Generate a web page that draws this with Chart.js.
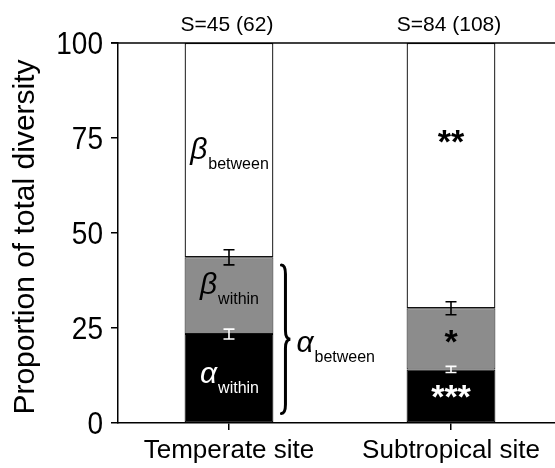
<!DOCTYPE html>
<html><head><meta charset="utf-8">
<script src="https://cdn.jsdelivr.net/npm/chart.js@4"></script>
<style>
html,body{margin:0;padding:0;background:#fff;overflow:hidden;width:555px;height:468px}
#wrap{width:562px;height:468px;position:relative}
</style></head>
<body><div id="wrap"><canvas id="c"></canvas></div>
<script>
const categories = ['Temperate site', 'Subtropical site'];
const alphaWithin = [23.4, 14.1];
const betaWithin = [20.2, 16.1];
const betaBetween = [56.4, 69.8];
const alphaWithinErr = [1.3, 0.8];
const betaWithinErr = [2.0, 1.7];
const speciesLabels = ['S=45 (62)', 'S=84 (108)'];
const sigAlphaWithin = ['', '***'];
const sigBetaWithin = ['', '*'];
const sigBetaBetween = ['', '**'];
const yTicks = [0, 25, 50, 75, 100];
const yTitle = 'Proportion of total diversity';

const FONT = '"Liberation Sans", Arial, Helvetica, sans-serif';

function drawBrace(ctx, x, y1, y2, w) {
  const ym = (y1 + y2) / 2;
  const xm = x + w * 0.45;
  ctx.beginPath();
  ctx.moveTo(x, y1);
  ctx.quadraticCurveTo(xm, y1, xm, y1 + w);
  ctx.lineTo(xm, ym - w);
  ctx.quadraticCurveTo(xm, ym, x + w, ym);
  ctx.quadraticCurveTo(xm, ym, xm, ym + w);
  ctx.lineTo(xm, y2 - w);
  ctx.quadraticCurveTo(xm, y2, x, y2);
  ctx.stroke();
}

function drawSub(ctx, greek, sub, x, gBase, sBase, color, align) {
  ctx.save();
  ctx.fillStyle = color;
  ctx.textBaseline = 'alphabetic';
  ctx.textAlign = 'left';
  ctx.font = 'italic 30px ' + FONT;
  const gw = ctx.measureText(greek).width;
  ctx.font = '16px ' + FONT;
  const sw = ctx.measureText(sub).width;
  let x0 = align === 'center' ? x - (gw + sw) / 2 : x;
  ctx.font = 'italic 30px ' + FONT;
  ctx.fillText(greek, x0, gBase);
  ctx.font = '16px ' + FONT;
  ctx.fillText(sub, x0 + gw + 1, sBase);
  ctx.restore();
}

const overlay = {
  id: 'overlay',
  afterDraw(chart) {
    const ctx = chart.ctx;
    const ys = chart.scales.y;
    const ca = chart.chartArea;
    // top border
    ctx.save();
    ctx.strokeStyle = '#000';
    ctx.lineWidth = 1.5;
    ctx.beginPath();
    ctx.moveTo(ca.left - 7, ca.top);
    ctx.lineTo(ca.right, ca.top);
    ctx.stroke();
    ctx.restore();

    // y tick labels (slightly tall digits, as in the reference)
    ctx.save();
    ctx.fillStyle = '#000';
    ctx.font = '28px ' + FONT;
    ctx.textAlign = 'right';
    ctx.textBaseline = 'middle';
    ys.ticks.forEach(t => {
      const y = ys.getPixelForValue(t.value) + 2;
      ctx.save();
      ctx.translate(ys.right - 15, y);
      ctx.scale(1, 1.14);
      ctx.fillText(String(t.value), 0, 0);
      ctx.restore();
    });
    ctx.restore();

    // y title
    ctx.save();
    ctx.fillStyle = '#000';
    ctx.font = '30px ' + FONT;
    ctx.textAlign = 'center';
    ctx.textBaseline = 'middle';
    ctx.translate(26, (ca.top + ca.bottom) / 2 + 4);
    ctx.rotate(-Math.PI / 2);
    ctx.fillText(yTitle, 0, 0);
    ctx.restore();

    const metaA = chart.getDatasetMeta(0);

    categories.forEach((c, i) => {
      const bar = metaA.data[i];
      const cx = bar.x;
      const half = bar.width / 2;
      const drawErr = (val, err, color) => {
        const yT = ys.getPixelForValue(val + err);
        const yB = ys.getPixelForValue(val - err);
        ctx.save();
        ctx.strokeStyle = color;
        ctx.lineWidth = 1.6;
        ctx.beginPath();
        ctx.moveTo(cx, yT); ctx.lineTo(cx, yB);
        ctx.moveTo(cx - 5.5, yT); ctx.lineTo(cx + 5.5, yT);
        ctx.moveTo(cx - 5.5, yB); ctx.lineTo(cx + 5.5, yB);
        ctx.stroke();
        ctx.restore();
      };
      drawErr(alphaWithin[i] + betaWithin[i], betaWithinErr[i], '#000');
      drawErr(alphaWithin[i], alphaWithinErr[i], '#fff');

      // species labels
      ctx.save();
      ctx.fillStyle = '#000';
      ctx.font = '21px ' + FONT;
      ctx.textAlign = 'center';
      ctx.textBaseline = 'middle';
      ctx.fillText(speciesLabels[i], cx - 2, ca.top - 18);
      ctx.restore();

      // significance asterisks
      const mids = [
        [sigAlphaWithin[i], ys.getPixelForValue(alphaWithin[i] / 2) - 7, '#fff'],
        [sigBetaWithin[i], ys.getPixelForValue(alphaWithin[i] + betaWithin[i] / 2) - 5, '#000'],
        [sigBetaBetween[i], ys.getPixelForValue(75) - 4, '#000']
      ];
      mids.forEach(([t, y, col]) => {
        if (!t) return;
        ctx.save();
        ctx.fillStyle = col;
        ctx.font = 'bold 34px ' + FONT;
        ctx.textAlign = 'center';
        ctx.textBaseline = 'alphabetic';
        ctx.fillText(t, cx, y + 19);
        ctx.restore();
      });

      if (i === 0) {
        const midBetween = ys.getPixelForValue(alphaWithin[i] + betaWithin[i] + betaBetween[i] / 2);
        const midWithin = ys.getPixelForValue(alphaWithin[i] + betaWithin[i] / 2);
        const midAlpha = ys.getPixelForValue(alphaWithin[i] / 2);
        drawSub(ctx, 'β', 'between', cx, midBetween + 9, midBetween + 19, '#000', 'center');
        drawSub(ctx, 'β', 'within', cx, midWithin - 2, midWithin + 8, '#000', 'center');
        drawSub(ctx, 'α', 'within', cx, midAlpha + 4, midAlpha + 14, '#fff', 'center');
        const yTop = ys.getPixelForValue(alphaWithin[i] + betaWithin[i] - 2);
        const yBot = ys.getPixelForValue(2.5);
        ctx.save();
        ctx.strokeStyle = '#000';
        ctx.lineWidth = 3;
        ctx.lineCap = 'round';
        drawBrace(ctx, cx + half + 8, yTop, yBot, 9);
        ctx.restore();
        const ym = (yTop + yBot) / 2;
        drawSub(ctx, 'α', 'between', cx + half + 23, ym + 13, ym + 23, '#000', 'left');
      }
    });
  }
};

new Chart(document.getElementById('c'), {
  type: 'bar',
  data: {
    labels: categories,
    datasets: [
      { label: 'α within', data: alphaWithin, backgroundColor: '#000', borderColor: '#000', borderWidth: 1 },
      { label: 'β within', data: betaWithin, backgroundColor: '#8c8c8c', borderColor: '#111', borderWidth: 1 },
      { label: 'β between', data: betaBetween, backgroundColor: '#fff', borderColor: '#111', borderWidth: 1.3 }
    ]
  },
  options: {
    responsive: true,
    maintainAspectRatio: false,
    animation: false,
    devicePixelRatio: 1,
    layout: { padding: { top: 43, left: 0, right: 0, bottom: 0 } },
    datasets: { bar: { barPercentage: 0.8, categoryPercentage: 0.5, borderSkipped: false } },
    plugins: { legend: { display: false }, tooltip: { enabled: false } },
    scales: {
      x: {
        stacked: true,
        grid: { offset: false, drawOnChartArea: false, drawTicks: true, tickLength: 7, color: '#000', lineWidth: 1.5 },
        border: { display: true, color: '#000', width: 1.5 },
        ticks: { color: '#000', font: { family: FONT, size: 26 }, padding: 5, maxRotation: 0, autoSkip: false },
        afterFit(s) { s.height = 45; }
      },
      y: {
        stacked: true,
        min: 0, max: 100,
        afterBuildTicks(s) { s.ticks = yTicks.map(v => ({ value: v })); },
        grid: { drawOnChartArea: false, drawTicks: true, tickLength: 7, color: '#000', lineWidth: 1.5 },
        border: { display: true, color: '#000', width: 1.5 },
        ticks: { color: 'rgba(0,0,0,0)', font: { family: FONT, size: 28 }, padding: 8 },
        afterFit(s) { s.width = 118; }
      }
    }
  },
  plugins: [overlay]
});
</script>
</body></html>
